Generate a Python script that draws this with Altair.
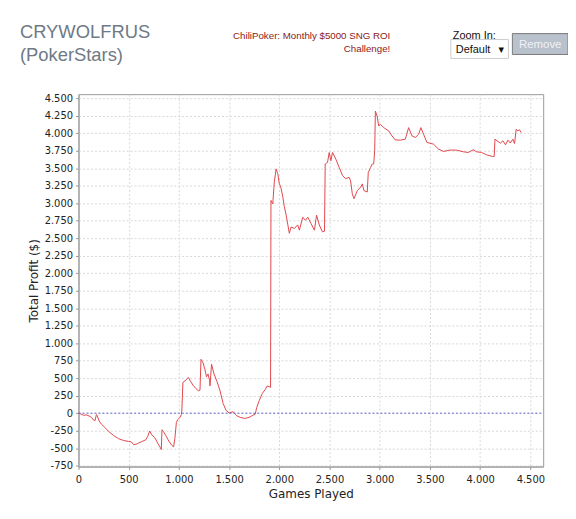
import altair as alt
import pandas as pd

games = [0, 20, 50, 80, 105, 130, 150, 165, 178, 185, 205, 230, 260, 300, 350, 400, 450, 500, 525, 550,
         580, 600, 640, 670, 690, 709, 730, 760, 790, 810, 825, 831, 845, 870, 900, 930, 947, 960, 975, 990,
         1010, 1025, 1030, 1040, 1060, 1080, 1095, 1110, 1140, 1170, 1194, 1210, 1220, 1240, 1260, 1275, 1290, 1305, 1310, 1325,
         1350, 1380, 1410, 1440, 1470, 1500, 1540, 1575, 1610, 1655, 1700, 1730, 1760, 1775, 1800, 1830, 1860, 1880, 1913, 1917,
         1935, 1950, 1968, 1985, 2000, 2015, 2035, 2050, 2068, 2085, 2100, 2117, 2150, 2183, 2200, 2233, 2260, 2283, 2316, 2350,
         2371, 2398, 2430, 2450, 2457, 2480, 2497, 2513, 2530, 2563, 2597, 2630, 2661, 2695, 2710, 2727, 2744, 2777, 2810, 2827,
         2843, 2876, 2886, 2909, 2926, 2940, 2950, 2957, 2974, 2990, 3006, 3040, 3090, 3122, 3155, 3205, 3255, 3288, 3321, 3355,
         3388, 3410, 3437, 3470, 3536, 3586, 3635, 3700, 3766, 3832, 3882, 3931, 3964, 4014, 4063, 4122, 4140, 4148, 4178, 4201,
         4227, 4253, 4277, 4300, 4326, 4343, 4359, 4376, 4392, 4408]
profit = [0, -10, -30, -25, -40, -60, -100, -105, -20, -30, -110, -160, -200, -260, -320, -365, -390, -405, -410, -450,
          -440, -425, -400, -380, -330, -255, -310, -350, -430, -480, -520, -237, -260, -320, -400, -460, -482, -360, -130, -90,
          -60, -20, 60, 440, 460, 490, 511, 470, 400, 350, 320, 330, 770, 720, 620, 520, 560, 470, 390, 700,
          560, 450, 320, 140, 40, 5, 20, -35, -60, -75, -60, -35, -15, 80, 180, 280, 340, 390, 370, 3040,
          2990, 3300, 3490, 3420, 3280, 3230, 3090, 2950, 2830, 2690, 2570, 2660, 2640, 2690, 2615, 2800, 2756, 2800, 2710, 2615,
          2830, 2690, 2590, 2600, 3560, 3583, 3725, 3607, 3725, 3630, 3510, 3395, 3350, 3370, 3320, 3135, 3065, 3180, 3230, 3276,
          3180, 3160, 3440, 3512, 3560, 3560, 3750, 4316, 4245, 4103, 4127, 4080, 4033, 3962, 3905, 3901, 3915, 4080, 3962, 3939,
          3986, 4080, 3986, 3868, 3844, 3773, 3740, 3759, 3759, 3735, 3725, 3763, 3735, 3725, 3692, 3668, 3668, 3915, 3881, 3858,
          3891, 3834, 3901, 3860, 3915, 3853, 4057, 4033, 4050, 4009]

x_ticks = [0, 500, 1000, 1500, 2000, 2500, 3000, 3500, 4000, 4500]
y_ticks = [-750, -500, -250, 0, 250, 500, 750, 1000, 1250, 1500, 1750, 2000, 2250, 2500,
           2750, 3000, 3250, 3500, 3750, 4000, 4250, 4500]

df = pd.DataFrame({"games": games, "profit": profit})

W, H = 468, 375
FONT = "DejaVu Sans"
HFONT = "Liberation Sans"
label_expr = "replace(replace(format(datum.value, ','), ',', '.'), '\u2212', '-')"

xs = alt.Scale(domain=[0, 4628], nice=False, zero=False)
ys = alt.Scale(domain=[-762, 4558], nice=False, zero=False)

common = dict(grid=True, gridDash=[2, 2], gridColor="#d8d8d8", domainColor="#999999",
              tickColor="#999999", tickSize=3, labelFont=FONT, labelFontSize=10,
              labelColor="#222222", labelOverlap=False, titleFont=FONT, titleFontSize=12,
              titleFontWeight="normal", titleColor="#222222")

xaxis = alt.Axis(values=x_ticks, labelExpr=label_expr, title="Games Played",
                 labelPadding=5, titlePadding=4, labelFlush=False, **common)
yaxis = alt.Axis(values=y_ticks, labelExpr=label_expr, title="Total Profit ($)",
                 labelPadding=3, titlePadding=4, **common)

line = alt.Chart(df).mark_line(color="#e0484d", strokeWidth=1, interpolate="linear").encode(
    x=alt.X("games:Q", scale=xs, axis=xaxis),
    y=alt.Y("profit:Q", scale=ys, axis=yaxis),
)

zero = alt.Chart(pd.DataFrame({"profit": [0]})).mark_rule(color="#6a6ad0", strokeDash=[2, 2], strokeWidth=1).encode(
    y=alt.Y("profit:Q", scale=ys, axis=yaxis), x=alt.value(0), x2=alt.value(W)
)

one = alt.Data(values=[{}])

def txt(s, x, y, size, color, align="left", font=HFONT):
    return alt.Chart(one).mark_text(text=s, font=font, fontSize=size, color=color, align=align,
                                    baseline="alphabetic").encode(
        x=alt.value(x), y=alt.value(y))

def box(x, x2, y, y2, fill, stroke):
    return alt.Chart(one).mark_rect(fill=fill, stroke=stroke, strokeWidth=1).encode(
        x=alt.value(x), x2=alt.value(x2), y=alt.value(y), y2=alt.value(y2))

deco = [
    txt("CRYWOLFRUS", -59, -57, 18.5, "#6e7a86"),
    txt("(PokerStars)", -59, -33, 18.5, "#6e7a86"),
    txt("ChiliPoker: Monthly $5000 SNG ROI", 314, -56, 9.8, "#8b1a1a", "right"),
    txt("Challenge!", 314, -42, 9.8, "#8b1a1a", "right"),
    txt("Zoom In:", 377, -56, 11, "#111111"),
    box(375, 433, -55, -36, "#ffffff", "#cccccc"),
    txt("Default", 380, -41, 11, "#111111"),
    txt("\u25be", 423, -41, 11, "#111111", font=FONT),
    box(437, 493, -61, -40, "#b9c1cc", "#7a7a7a"),
    txt("Remove", 465, -46, 11.5, "#eef1f5", "center"),
]

chart = alt.layer(line, zero, *deco).properties(
    width=W, height=H,
    autosize=alt.AutoSizeParams(type="none"),
    padding={"left": 71, "top": 85, "right": 25, "bottom": 40},
).configure_view(stroke="#999999", strokeWidth=1)

chart.save("out.html", embed_options={"renderer": "svg", "actions": False})
